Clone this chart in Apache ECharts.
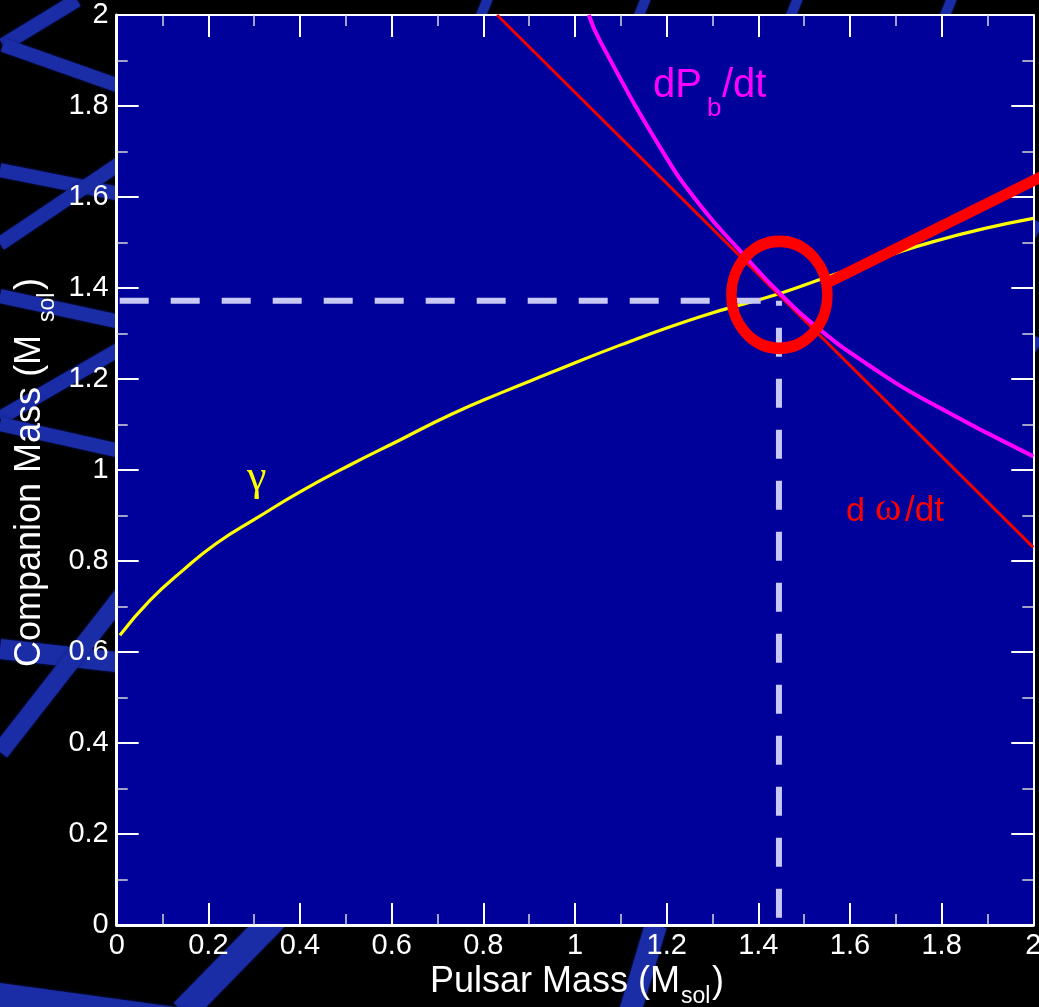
<!DOCTYPE html>
<html>
<head>
<meta charset="utf-8">
<script src="https://cdn.jsdelivr.net/npm/echarts@6/dist/echarts.min.js"></script>
<style>
  html, body { margin: 0; padding: 0; background: #000; overflow: hidden; }
  #chart { width: 1039px; height: 1007px; }
</style>
</head>
<body>
<div id="chart"></div>
<script>
// Post-Keplerian mass-mass diagram: each curve is one timing constraint.

// Shapiro / gravitational redshift constraint (gamma)
const gammaX = [0.007, 0.073, 0.145, 0.218, 0.305, 0.40, 0.509, 0.618, 0.727, 0.837, 0.945, 1.10, 1.273, 1.447, 1.564, 1.782, 2.0];
const gammaY = [0.637, 0.714, 0.780, 0.839, 0.894, 0.952, 1.011, 1.066, 1.121, 1.169, 1.213, 1.275, 1.337, 1.388, 1.429, 1.502, 1.553];

// Orbital period decay constraint (dPb/dt)
const pbdotX = [1.030, 1.055, 1.193, 1.273, 1.360, 1.447, 1.535, 1.637, 1.767, 2.0];
const pbdotY = [2.0, 1.942, 1.697, 1.582, 1.482, 1.388, 1.308, 1.233, 1.152, 1.030];

// Periastron advance constraint (domega/dt): constant total mass
const omdotX = [0.83, 2.0];
const omdotY = [2.0, 0.83];

// Common solution of the three constraints
const solutionMass = [1.445, 1.372];          // [pulsar, companion]
const solutionRing = [1.446, 1.385];          // centre of the highlight ring
const pointerX = [1.556, 2.05];
const pointerY = [1.414, 1.661];

// Axis tick labels (step 0.2)
const xTickLabels = ['0', '0.2', '0.4', '0.6', '0.8', '1', '1.2', '1.4', '1.6', '1.8', '2'];
const yTickLabels = ['0', '0.2', '0.4', '0.6', '0.8', '1', '1.2', '1.4', '1.6', '1.8', '2'];

const zip = (xs, ys) => xs.map((x, i) => [x, ys[i]]);
const tickLabel = (labels) => (v) => labels[Math.round(v / 0.2)] ?? '';

const SANS = '"Liberation Sans", Arial, Helvetica, sans-serif';
const SERIF = '"Liberation Serif", "Times New Roman", serif';

// Text placed with its em-box middle; convert from a baseline position.
function txt(str, x, baseline, size, color, family) {
  const off = family === SERIF ? 0.3375 : 0.3465;
  return {
    type: 'text', z: 20, silent: true,
    x: x, y: baseline - off * size,
    style: {
      text: str, fill: color, font: size + 'px ' + family,
      align: 'left', textAlign: 'left', verticalAlign: 'middle', textVerticalAlign: 'middle'
    }
  };
}
// Rotated (bottom-to-top) text: baselineX is the screen x of the baseline.
function vtxt(str, baselineX, yStart, size, color) {
  return {
    type: 'text', z: 20, silent: true, rotation: Math.PI / 2,
    x: baselineX - 0.3465 * size, y: yStart,
    style: {
      text: str, fill: color, font: size + 'px ' + SANS,
      align: 'left', textAlign: 'left', verticalAlign: 'middle', textVerticalAlign: 'middle'
    }
  };
}

// Decorative backdrop stripes around the plot frame
const STRIPE = '#1a2ca6';
const backdropStripes = [
  [77, 0, 3, 45, 14], [3, 45, 125, 88, 14],
  [0, 170, 125, 195, 14], [0, 244, 125, 160, 14],
  [0, 296, 125, 323, 14], [0, 418, 125, 346, 14],
  [0, 424, 125, 452, 14], [0, 649, 125, 663, 20],
  [0, 752, 125, 592, 18],
  [275, 918, 183, 1012, 26], [656, 925, 630, 1012, 22],
  [488, -2, 480, 18, 10], [646, -2, 638, 18, 10], [798, -2, 790, 18, 10], [952, -2, 944, 18, 10],
  [1039, 222, 1032, 236, 8], [1039, 338, 1032, 350, 8]
];
const stripeGraphics = backdropStripes.map(s => ({
  type: 'line', z: -5, silent: true,
  shape: { x1: s[0], y1: s[1], x2: s[2], y2: s[3] },
  style: { stroke: STRIPE, lineWidth: s[4], lineCap: 'butt', shadowBlur: 3, shadowColor: '#0f1a70' }
}));
stripeGraphics.push({
  type: 'polygon', z: -5, silent: true,
  shape: { points: [[0, 983], [190, 1009], [0, 1009]] },
  style: { fill: STRIPE, shadowBlur: 3, shadowColor: '#0f1a70' }
});

const chart = echarts.init(document.getElementById('chart'), null, { renderer: 'canvas' });

function axisCommon(labels, showLabels, lineWidth) {
  return {
    type: 'value', min: 0, max: 2, interval: 0.2,
    axisLine: { show: true, onZero: false, lineStyle: { color: '#ffffff', width: lineWidth } },
    axisTick: { show: true, inside: true, length: 22, lineStyle: { color: '#ffffff', width: 2 } },
    minorTick: { show: true, splitNumber: 2, length: 11, lineStyle: { color: '#d8d8d8', width: 1.5 } },
    splitLine: { show: false },
    minorSplitLine: { show: false },
    axisLabel: {
      show: showLabels, color: '#ffffff', fontSize: 29, fontFamily: SANS,
      formatter: tickLabel(labels)
    }
  };
}

const xBottom = axisCommon(xTickLabels, true, 3);
xBottom.position = 'bottom';
xBottom.axisLabel.margin = 6;
const xTop = axisCommon(xTickLabels, false, 2);
xTop.position = 'top';
const yLeft = axisCommon(yTickLabels, true, 3);
yLeft.position = 'left';
yLeft.axisLabel.margin = 8;
const yRight = axisCommon(yTickLabels, false, 2);
yRight.position = 'right';

const ringPath = 'path://M0,50 A50,50 0 1,1 100,50 A50,50 0 1,1 0,50 Z';

const option = {
  backgroundColor: '#000000',
  animation: false,
  grid: {
    left: 116.7, right: 5.7, top: 15, bottom: 82,
    show: true, backgroundColor: '#00009a', borderWidth: 0,
    containLabel: false, outerBoundsMode: 'none'
  },
  xAxis: [xBottom, xTop],
  yAxis: [yLeft, yRight],
  series: [
    {
      name: 'gamma', type: 'line', z: 3, data: zip(gammaX, gammaY),
      smooth: 0.5, showSymbol: false, symbol: 'none',
      lineStyle: { color: '#ffff00', width: 3.2 }
    },
    {
      name: 'domega/dt', type: 'line', z: 3, data: zip(omdotX, omdotY),
      showSymbol: false, symbol: 'none',
      lineStyle: { color: '#f00000', width: 3 }
    },
    {
      name: 'dPb/dt', type: 'line', z: 3, data: zip(pbdotX, pbdotY),
      smooth: 0.5, showSymbol: false, symbol: 'none',
      lineStyle: { color: '#ff00ff', width: 4 }
    },
    {
      name: 'solution-h', type: 'line', z: 4,
      data: [[0, solutionMass[1]], [solutionMass[0], solutionMass[1]]],
      showSymbol: false, symbol: 'none',
      lineStyle: { color: '#c8c8f4', width: 6, type: [29, 22], dashOffset: 48, cap: 'butt' }
    },
    {
      name: 'solution-v', type: 'line', z: 4,
      data: [[solutionMass[0], solutionMass[1]], [solutionMass[0], 0]],
      showSymbol: false, symbol: 'none',
      lineStyle: { color: '#c8c8f4', width: 6, type: [29, 22], dashOffset: 24, cap: 'butt' }
    },
    {
      name: 'pointer', type: 'line', z: 5, clip: false,
      data: zip(pointerX, pointerY),
      showSymbol: false, symbol: 'none',
      lineStyle: { color: '#ff0000', width: 11, cap: 'butt' }
    },
    {
      name: 'ring', type: 'scatter', z: 6,
      data: [solutionRing],
      symbol: ringPath, symbolSize: [96, 107], symbolKeepAspect: false,
      itemStyle: { color: 'rgba(0,0,0,0)', borderColor: '#ff0000', borderWidth: 11, opacity: 1 },
      silent: true
    }
  ],
  graphic: stripeGraphics.concat([
    // x-axis title
    txt('Pulsar Mass (M', 430, 995, 36, '#ffffff', SANS),
    txt('sol', 681, 1005, 23, '#ffffff', SANS),
    txt(')', 712, 995, 36, '#ffffff', SANS),
    // y-axis title
    vtxt('Companion Mass (M', 43, 667, 36, '#ffffff'),
    vtxt('sol', 56, 322, 23, '#ffffff'),
    vtxt(')', 43, 290, 36, '#ffffff'),
    // curve labels
    txt('\u03b3', 247, 493, 44, '#ffff00', SERIF),
    txt('dP', 653, 100, 40, '#ff00ff', SANS),
    txt('b', 707, 118, 26, '#ff00ff', SANS),
    txt('/dt', 722, 100, 40, '#ff00ff', SANS),
    txt('d', 846, 523, 34, '#ff0000', SANS),
    txt('\u03c9', 875, 523, 40, '#ff0000', SERIF),
    txt('/dt', 905, 523, 35, '#ff0000', SANS)
  ])
};

chart.setOption(option);
</script>
</body>
</html>
